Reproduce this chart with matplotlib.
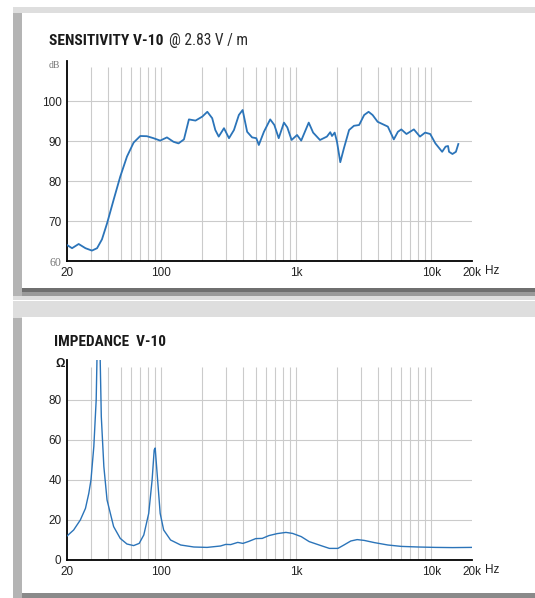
import numpy as np
import matplotlib.pyplot as plt
from matplotlib import font_manager
from matplotlib.patches import Rectangle

# sensitivity curve (Hz, dB)
spl_freq = [20, 21.8, 24.4, 27.4, 30.6, 33.4, 36.3, 39.6, 44.3, 49.6, 55.6, 62.3,
            69.8, 78.1, 87.5, 98, 110, 123, 134, 147, 160, 179, 201, 219, 238,
            251, 266, 291, 317, 345, 375, 400, 432, 470, 505, 527, 575, 640,
            687, 740, 809, 857, 922, 1012, 1086, 1235, 1331, 1496, 1683, 1783,
            1836, 1922, 2000, 2115, 2251, 2458, 2670, 2916, 3179, 3427, 3670,
            4000, 4760, 5270, 5650, 5990, 6540, 7420, 8230, 8990, 9810, 10710,
            12020, 12750, 13290, 13520, 14330, 15200, 15840]
spl_db = [64.0, 63.2, 64.25, 63.2, 62.6, 63.2, 65.4, 69.4, 75.3, 81.1, 86.1, 89.6,
          91.25, 91.2, 90.7, 90.1, 90.9, 89.8, 89.4, 90.4, 95.4, 95.1, 96.1, 97.3, 95.7,
          92.75, 91.1, 93.2, 90.7, 92.75, 96.5, 97.75, 92.3, 90.9, 90.7, 89.0, 92.3, 95.4,
          94.0, 90.7, 94.6, 93.4, 90.25, 91.5, 90.1, 94.6, 92.1, 90.25, 91.1, 92.2,
          91.25, 92.1, 89.8, 84.7, 88.2, 92.75, 93.8, 94.0, 96.5, 97.3, 96.5,
          94.8, 93.6, 90.4, 92.3, 92.9, 91.75, 92.9, 91.1, 92.1, 91.75, 89.4,
          87.3, 88.6, 88.75, 87.3, 86.75, 87.3, 89.25]

# impedance curve (Hz, ohm)
imp_freq = [20, 22.4, 25.1, 27.4, 29.0, 30.1, 31.6, 32.9, 34.0, 35.0, 35.9, 37.5,
            39.6, 44.3, 49.6, 55.6, 62.3, 68.5, 74.1, 80.6, 85.4, 88.5, 90, 93.4,
            98, 104, 117, 139, 174, 218, 274, 300, 326, 368, 402, 444, 500, 559,
            626, 722, 837, 937, 1086, 1244, 1520, 1757, 2031, 2251, 2530, 2820,
            3179, 3781, 4760, 5990, 7980, 10710, 14330, 20000]
imp_ohm = [12.0, 15.0, 20.0, 25.8, 33.3, 40.0, 56.7, 80.0, 130.0, 110.0, 71.7, 46.7,
           30.0, 16.7, 10.8, 8.0, 7.2, 8.3, 12.5, 23.3, 40.0, 55.0, 56.0, 41.7,
           23.3, 15.0, 10.0, 7.5, 6.5, 6.3, 7.0, 7.8, 7.7, 8.8, 8.3, 9.3, 10.7, 10.8,
           12.2, 13.2, 13.8, 13.3, 11.7, 9.2, 7.2, 5.8, 5.8, 7.5, 9.5, 10.2,
           9.8, 8.7, 7.5, 6.8, 6.5, 6.3, 6.2, 6.3]

x_ticks = [20, 100, 1000, 10000, 20000]
x_labels = ['20', '100', '1k', '10k', '20k']
grid_freqs = [30, 40, 50, 60, 70, 80, 90, 100, 200, 300, 400, 500, 600, 700, 800,
              900, 1000, 2000, 3000, 4000, 5000, 6000, 7000, 8000, 9000, 10000]
spl_yticks = [60, 70, 80, 90, 100]
imp_yticks = [0, 20, 40, 60, 80]

W, H = 535, 598
blue = '#2b74b9'
gridc = '#cbcbcb'
sans = ['Liberation Sans', 'DejaVu Sans']
serif = ['Liberation Serif', 'DejaVu Serif']

# a condensed face for the titles if one is there
installed = {f.name for f in font_manager.fontManager.ttflist}
narrow = 'Liberation Sans'
for name in ['Liberation Sans Narrow', 'DejaVu Sans Condensed', 'Roboto Condensed',
             'Open Sans Condensed']:
    if name in installed:
        narrow = name
        break

fig = plt.figure(figsize=(W / 100, H / 100), dpi=100)


def fx(x):
    return x / W


def fy(y):
    return 1 - y / H


# cards with shadows, drawn in pixel coords
bg = fig.add_axes([0, 0, 1, 1])
bg.set_xlim(0, W)
bg.set_ylim(H, 0)
bg.axis('off')
for (x, y, w, h, c) in [
    (13, 7, 522, 293, '#dedede'), (13, 13, 9, 283, '#b4b4b4'),
    (22, 288, 513, 4, '#6f6f6f'), (22, 292, 513, 4, '#9a9a9a'),
    (13, 301, 522, 297, '#dedede'), (13, 318, 9, 280, '#b4b4b4'),
    (22, 593, 513, 5, '#8a8a8a'),
    (22, 13, 513, 275, 'white'), (22, 317, 513, 276, 'white'),
]:
    bg.add_patch(Rectangle((x, y), w, h, color=c, lw=0))


def make_axes(top, bottom, ylim, yticks, grid_top, freq, vals, lw):
    ax = fig.add_axes([fx(67), fy(bottom), fx(472) - fx(67), fy(top) - fy(bottom)])
    ax.set_facecolor('none')
    ax.set_xscale('log')
    ax.set_xlim(20, 20000)
    ax.set_ylim(*ylim)
    ax.vlines(grid_freqs, ylim[0], grid_top, color=gridc, lw=0.8, zorder=1)
    ax.hlines(yticks[1:], 20, 20000, color=gridc, lw=0.8, zorder=1)
    ax.plot(freq, vals, color=blue, lw=lw, zorder=3, solid_joinstyle='round')
    ax.set_xticks(x_ticks)
    ax.set_xticklabels(x_labels)
    ax.xaxis.set_minor_locator(plt.NullLocator())
    ax.set_yticks(yticks)
    ax.tick_params(length=0, labelsize=8.5, pad=4)
    for lab in ax.get_xticklabels() + ax.get_yticklabels():
        lab.set_family(sans)
        lab.set_color('#222222')
    for s in ['top', 'right']:
        ax.spines[s].set_visible(False)
    for s in ['left', 'bottom']:
        ax.spines[s].set_color('black')
        ax.spines[s].set_linewidth(1.3)
    return ax


ax1 = make_axes(61, 261, (60, 110), spl_yticks, 108.5, spl_freq, spl_db, 1.3)
lab60 = ax1.get_yticklabels()[0]
lab60.set_family(serif)
lab60.set_color('#777777')

ax2 = make_axes(360, 560, (0, 100), imp_yticks, 96.5, imp_freq, imp_ohm, 1.0)

renderer = fig.canvas.get_renderer()


def fit_width(t, width_px, max_size):
    # shrink the font until the text is as wide as in the picture
    w = t.get_window_extent(renderer).width
    t.set_fontsize(min(max_size, t.get_fontsize() * width_px / w))


# titles and unit labels
t1 = fig.text(fx(49), fy(41), 'SENSITIVITY V-10', family=narrow, weight='heavy',
              fontsize=13, color='#1a1a1a', va='center')
t2 = fig.text(fx(169), fy(41), '@ 2.83 V / m', family=narrow, fontsize=13,
              color='#2a2a2a', va='center')
t3 = fig.text(fx(54), fy(342), 'IMPEDANCE  V-10', family=narrow, weight='heavy',
              fontsize=13, color='#1a1a1a', va='center')
fit_width(t1, 114, 13)
fit_width(t2, 79, 13)
fit_width(t3, 111, 13)

fig.text(fx(49), fy(65), 'dB', family=serif, fontsize=7, color='#777777', va='center')
fig.text(fx(55), fy(364), 'Ω', family=sans, weight='bold', fontsize=8.5,
         color='#1a1a1a', va='center')
fig.text(fx(485), fy(271), 'Hz', family=sans, fontsize=8.5, color='#222222', va='center')
fig.text(fx(485), fy(570), 'Hz', family=sans, fontsize=8.5, color='#222222', va='center')

fig.savefig('out.png', dpi=100)
